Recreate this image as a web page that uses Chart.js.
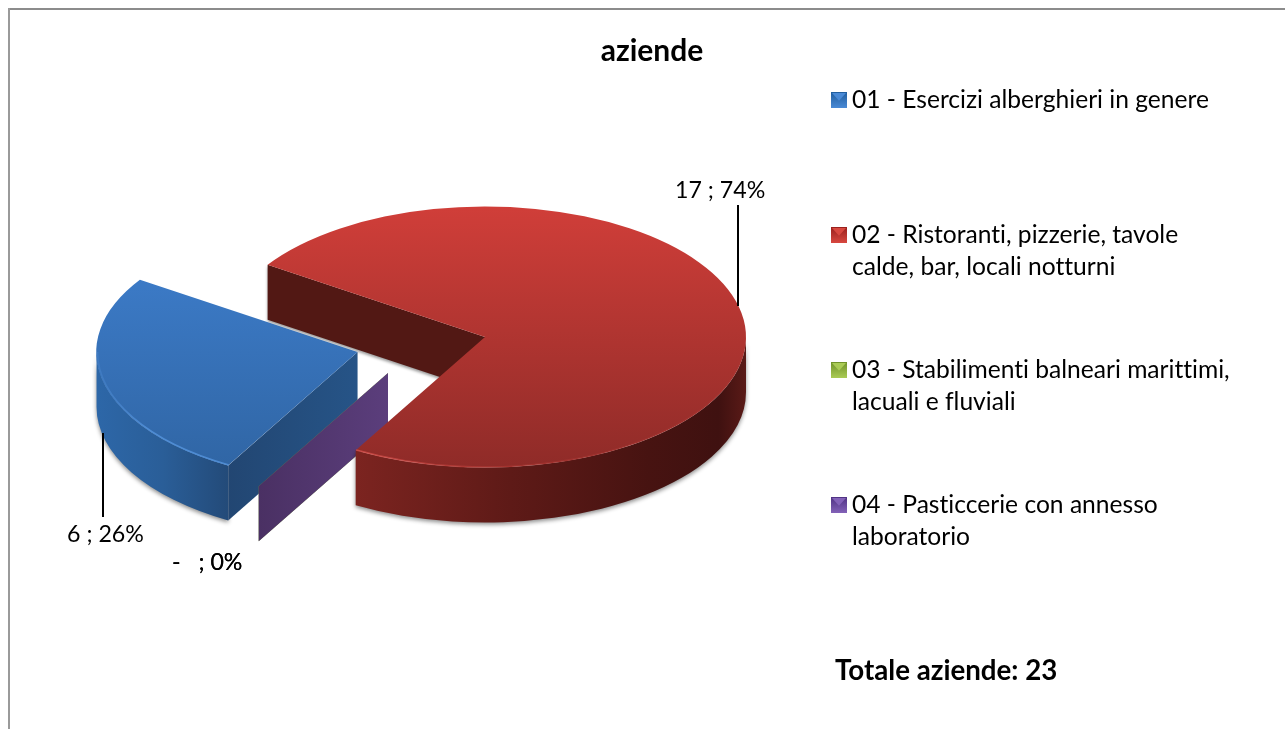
<!DOCTYPE html>
<html><head><meta charset="utf-8">
<style>html,body{margin:0;padding:0;background:#fff}canvas{display:block}</style>
<script src="https://cdn.jsdelivr.net/npm/chart.js@4/dist/chart.umd.min.js"></script>
</head><body>
<canvas id="c" width="1285" height="729"></canvas>
<script>
const chartTitle = 'aziende';
const categories = [
  ['01 - Esercizi alberghieri in genere'],
  ['02 - Ristoranti, pizzerie, tavole','calde, bar, locali notturni'],
  ['03 - Stabilimenti balneari marittimi,','lacuali e fluviali'],
  ['04 - Pasticcerie con annesso','laboratorio']
];
const values = [6, 17, 0, 0];
const totalLabel = 'Totale aziende: 23';

const FONT = 'Lato, Carlito, sans-serif';
const LEGEND_SIZE = 24.6, LABEL_SIZE = 23.2;
const CX = 485, CY = 337, SQ = 0.5, DEPTH = 55, R = 261;
const explode = [524, 0, 0, 0];
const zeroWallAt = {x: 388, y: 373};
const legendY = [[108],[243,275],[378,410],[513,545]];
const markerY = [92,227,362,497];
const markerCol = [['#4a8ad6','#1f5d9e'],['#d8483f','#98201c'],['#aacb55','#6f9128'],['#8362b8','#4f3283']];
const dataLabelPos = [
  {x:67, y:542, lx:103, ly0:433, ly1:517},
  {x:675, y:198, lx:738, ly0:205, ly1:306},
  {x:172, y:570},
  {x:172, y:570}
];

function vGrad(ctx, y0, y1, a, b){const g=ctx.createLinearGradient(0,y0,0,y1);g.addColorStop(0,a);g.addColorStop(1,b);return g;}
function hGrad(ctx, x0, x1, stops){const g=ctx.createLinearGradient(x0,0,x1,0);stops.forEach(s=>g.addColorStop(s[0],s[1]));return g;}

function topFill(c){
  const ca = c.chart.chartArea; if(!ca) return '#888';
  const my=(ca.top+ca.bottom)/2, ctx=c.chart.ctx;
  const i=c.dataIndex;
  const pal=[['#3f80d0','#2f64a2'],['#d03e39','#8f2b28'],['#9bbb59','#9bbb59'],['#8064a2','#8064a2']][i];
  return vGrad(ctx,my-R,my+R,pal[0],pal[1]);
}
function sliceGeom(arc, i){
  const mid=(arc.startAngle+arc.endAngle)/2, off=(explode[i]||0)/4;
  return {cx:CX+Math.cos(mid)*off, cy:CY+Math.sin(mid)*off*SQ};
}
function pt(g,a,r){return [g.cx+Math.cos(a)*r, g.cy+Math.sin(a)*r*SQ];}
function outerWall(ctx,g,a0,a1,r,fill,shadow){
  ctx.save();
  if(shadow){ctx.shadowColor='rgba(0,0,0,.45)';ctx.shadowBlur=4;ctx.shadowOffsetY=2;}
  ctx.beginPath();
  ctx.ellipse(g.cx,g.cy,r,r*SQ,0,a0,a1,false);
  ctx.ellipse(g.cx,g.cy+DEPTH,r,r*SQ,0,a1,a0,true);
  ctx.closePath();ctx.fillStyle=fill;ctx.fill();ctx.restore();
}
function flatWall(ctx,p,q,fill,shadow){
  ctx.save();
  if(shadow){ctx.shadowColor='rgba(0,0,0,.4)';ctx.shadowBlur=3;ctx.shadowOffsetY=2;}
  ctx.beginPath();ctx.moveTo(p[0],p[1]);ctx.lineTo(q[0],q[1]);ctx.lineTo(q[0],q[1]+DEPTH);ctx.lineTo(p[0],p[1]+DEPTH);ctx.closePath();
  ctx.fillStyle=fill;ctx.fill();ctx.restore();
}
function bevelMarker(ctx,x,y,s,col){
  ctx.fillStyle=vGrad(ctx,y,y+s,col[1],col[0]);ctx.fillRect(x,y,s,s);
  ctx.fillStyle=col[0];ctx.beginPath();ctx.moveTo(x+1,y+1);ctx.lineTo(x+s-1,y+1);ctx.lineTo(x+s/2,y+s*0.55);ctx.closePath();ctx.fill();
}

const pie3d = {
  id:'pie3d',
  beforeDraw(chart){
    const ctx=chart.ctx;
    ctx.save();ctx.fillStyle='#fff';ctx.fillRect(0,0,1285,729);
    ctx.fillStyle='#8c8c8c';ctx.fillRect(8,8,1277,2);
    ctx.fillStyle='#9a9a9a';ctx.fillRect(8,8,2,721);
    ctx.restore();
  },
  beforeDatasetsDraw(chart){
    const ctx=chart.ctx, arcs=chart.getDatasetMeta(0).data;
    const red=arcs[1], gr=sliceGeom(red,1);
    const blue=arcs[0], gb=sliceGeom(blue,0);
    flatWall(ctx,pt(gr,red.startAngle,R),[gr.cx,gr.cy],'#521814',true);
    outerWall(ctx,gb,blue.startAngle,Math.PI,R,hGrad(ctx,96,230,[[0,'#2d67a8'],[.5,'#2a5e98'],[1,'#234a78']]),true);
    flatWall(ctx,[gb.cx,gb.cy],pt(gb,blue.startAngle,R),hGrad(ctx,227,357,[[0,'#224672'],[1,'#265487']]),false);
    arcs.forEach((a,i)=>{
      if(values[i]!==0) return;
      const g={cx:zeroWallAt.x,cy:zeroWallAt.y};
      const col=i===2?['#6f8a3a','#84a247']:['#4a3063','#5b3e7c'];
      flatWall(ctx,[g.cx,g.cy],pt(g,a.startAngle,R),hGrad(ctx,258,388,[[0,col[0]],[1,col[1]]]),false);
    });
    const redEnd=red.endAngle;
    outerWall(ctx,gr,0,redEnd-2*Math.PI,R,hGrad(ctx,354,746,[[0,'#7c2420'],[.4,'#5e1a17'],[.75,'#471311'],[.93,'#3f1110'],[1,'#5a1a17']]),true);
    const a0=arcs[0];
    ctx.save();
    ctx.translate(CX,CY);ctx.scale(1,SQ);ctx.translate(-a0.x,-a0.y);
  },
  afterDatasetsDraw(chart){
    const ctx=chart.ctx, arcs=chart.getDatasetMeta(0).data;
    ctx.restore();
    const red=arcs[1], blue=arcs[0];
    const gb=sliceGeom(blue,0), gr=sliceGeom(red,1);
    ctx.save();ctx.lineWidth=1.6;
    ctx.strokeStyle=hGrad(ctx,96,227,[[0,'rgba(90,155,230,.2)'],[.4,'rgba(90,155,230,.7)'],[1,'rgba(90,155,230,.7)']]);
    ctx.beginPath();ctx.ellipse(gb.cx,gb.cy,R-1,(R-1)*SQ,0,blue.startAngle,Math.PI);ctx.stroke();
    ctx.strokeStyle=hGrad(ctx,354,746,[[0,'rgba(225,85,80,.7)'],[.4,'rgba(200,65,60,.35)'],[1,'rgba(200,65,60,.05)']]);
    ctx.beginPath();ctx.ellipse(gr.cx,gr.cy,R-1,(R-1)*SQ,0,0.1,red.endAngle-2*Math.PI);ctx.stroke();
    ctx.restore();
  },
  afterDraw(chart){
    const ctx=chart.ctx, total=values.reduce((a,b)=>a+b,0);
    ctx.save();
    ctx.textRendering='optimizeSpeed';
    ctx.textBaseline='alphabetic';ctx.textAlign='left';ctx.fillStyle='#000';
    ctx.font=LABEL_SIZE+'px '+FONT;
    values.forEach((v,i)=>{
      const p=dataLabelPos[i], pct=Math.round(v/total*100)+'%';
      ctx.fillStyle='#000';
      ctx.fillText((v===0?'-   ':v+' ')+'; '+pct,p.x,p.y);
      if(p.lx){ctx.strokeStyle='#000';ctx.lineWidth=2;ctx.beginPath();ctx.moveTo(p.lx,p.ly0);ctx.lineTo(p.lx,p.ly1);ctx.stroke();}
    });
    ctx.font=LEGEND_SIZE+'px '+FONT;
    categories.forEach((lines,i)=>{
      bevelMarker(ctx,831,markerY[i],16,markerCol[i]);
      ctx.fillStyle='#000';
      lines.forEach((t,j)=>ctx.fillText(t,852,legendY[i][j]));
    });
    ctx.font='bold 27.7px '+FONT;
    ctx.fillText(totalLabel,835,680);
    ctx.restore();
  }
};

new Chart(document.getElementById('c'),{
  type:'pie',
  data:{labels:categories.map(l=>l.join(' ')),datasets:[{data:values,
    backgroundColor:topFill,borderWidth:0,offset:explode}]},
  options:{
    responsive:false,animation:false,
    rotation:209.7,radius:R,
    layout:{padding:{left:19,right:0,top:0,bottom:0}},
    plugins:{
      legend:{display:false},tooltip:{enabled:false},
      title:{display:true,text:chartTitle,color:'#000',align:'center',
        font:{family:FONT,size:30,weight:'bold'},padding:{top:33,bottom:0}}
    }
  },
  plugins:[pie3d]
});
</script>
</body></html>
